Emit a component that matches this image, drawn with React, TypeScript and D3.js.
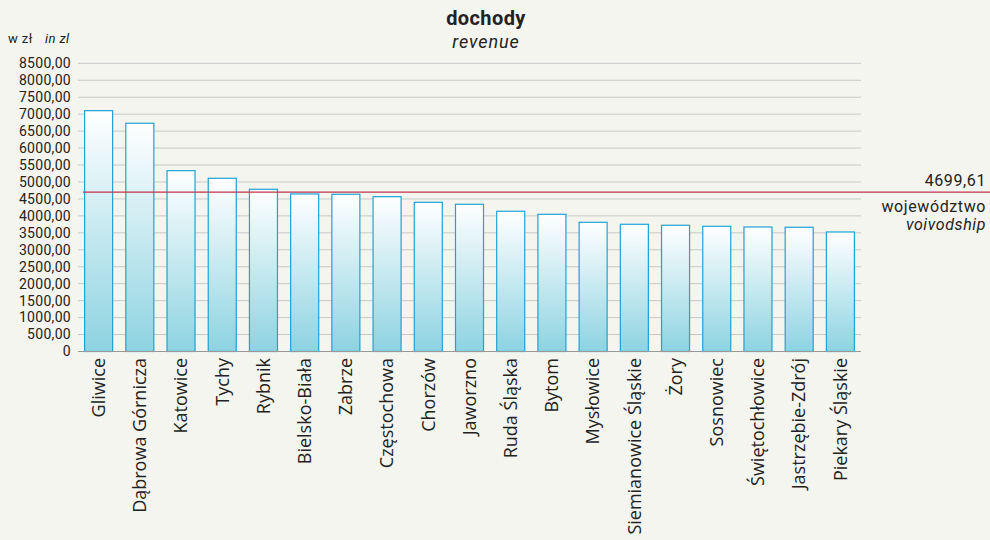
import React from "react";
import * as d3 from "d3";

const categories = [
  "Gliwice", "Dąbrowa Górnicza", "Katowice", "Tychy", "Rybnik", "Bielsko-Biała",
  "Zabrze", "Częstochowa", "Chorzów", "Jaworzno", "Ruda Śląska", "Bytom",
  "Mysłowice", "Siemianowice Śląskie", "Żory", "Sosnowiec", "Świętochłowice",
  "Jastrzębie-Zdrój", "Piekary Śląskie",
];
const revenue = [
  7103, 6732, 5333, 5109, 4785, 4646, 4637, 4566, 4401, 4342, 4136, 4047,
  3811, 3752, 3723, 3693, 3672, 3664, 3525,
];
const voivodship = 4699.61;
const yTicks = d3.range(0, 8501, 500);

const W = 990, H = 540;
const FONT = "'Open Sans', sans-serif";
const FONT2 = "Roboto, sans-serif";

export default function App() {
  const x = d3.scaleBand<string>().domain(categories).range([78, 861]).paddingInner(0.32).paddingOuter(0.16);
  const y = d3.scaleLinear().domain([0, 8500]).range([351.5, 63.3]);
  const fmt = (v: number) => (v === 0 ? "0" : v.toFixed(2).replace(".", ","));
  const yAvg = y(voivodship);
  return (
    <svg width={W} height={H} style={{ position: "absolute", left: 0, top: 0, background: "#f5f5f0" }} fontFamily={FONT}>
      <defs>
        <linearGradient id="barGrad" x1="0" y1="0" x2="0" y2="1">
          <stop offset="0" stopColor="#ffffff" />
          <stop offset="1" stopColor="#8dd3e1" />
        </linearGradient>
      </defs>
      <rect width={W} height={H} fill="#f5f5f0" />
      <text x={486} y={25} textAnchor="middle" fontWeight="bold" fontSize={20} fontFamily={FONT2} letterSpacing={0.4} fill="#222">dochody</text>
      <text x={486} y={48} textAnchor="middle" fontStyle="italic" fontSize={18} fontFamily={FONT2} letterSpacing={0.9} fill="#222">revenue</text>
      <text x={8} y={43} fontSize={13} fontFamily={FONT2} letterSpacing={0.4} fill="#222">w zł</text>
      <text x={45} y={43} fontSize={13} fontFamily={FONT2} letterSpacing={0.4} fontStyle="italic" fill="#222">in zl</text>
      {yTicks.map((t) => (
        <g key={t}>
          {t > 0 && <line x1={78} x2={861} y1={y(t)} y2={y(t)} stroke="#c8c8c8" strokeWidth={1} />}
          <text x={71} y={y(t)} dy="0.35em" textAnchor="end" fontSize={14} fontFamily={FONT2} letterSpacing={0.3} fill="#222">{fmt(t)}</text>
        </g>
      ))}
      {categories.map((c, i) => (
        <rect key={c} x={x(c)!} y={y(revenue[i])} width={x.bandwidth()} height={y(0) - y(revenue[i])}
          fill="url(#barGrad)" stroke="#1ea3d5" strokeWidth={1.2} />
      ))}
      <line x1={78} x2={861} y1={y(0)} y2={y(0)} stroke="#999" strokeWidth={1} />
      <line x1={83} x2={990} y1={yAvg} y2={yAvg} stroke="#c0344f" strokeWidth={1.3} />
      <text x={986} y={yAvg - 6} textAnchor="end" fontSize={16} fontFamily={FONT2} letterSpacing={0.6} fill="#222">4699,61</text>
      <text x={986} y={yAvg + 20} textAnchor="end" fontSize={16} fontFamily={FONT2} letterSpacing={0.6} fill="#222">województwo</text>
      <text x={986} y={yAvg + 38} textAnchor="end" fontSize={16} fontFamily={FONT2} letterSpacing={0.6} fontStyle="italic" fill="#222">voivodship</text>
      {categories.map((c) => {
        const cx = x(c)! + x.bandwidth() / 2;
        return (
          <text key={c} transform={`translate(${cx},358) rotate(-90)`} textAnchor="end" dy="0.35em" fontSize={18} fill="#222">{c}</text>
        );
      })}
    </svg>
  );
}
